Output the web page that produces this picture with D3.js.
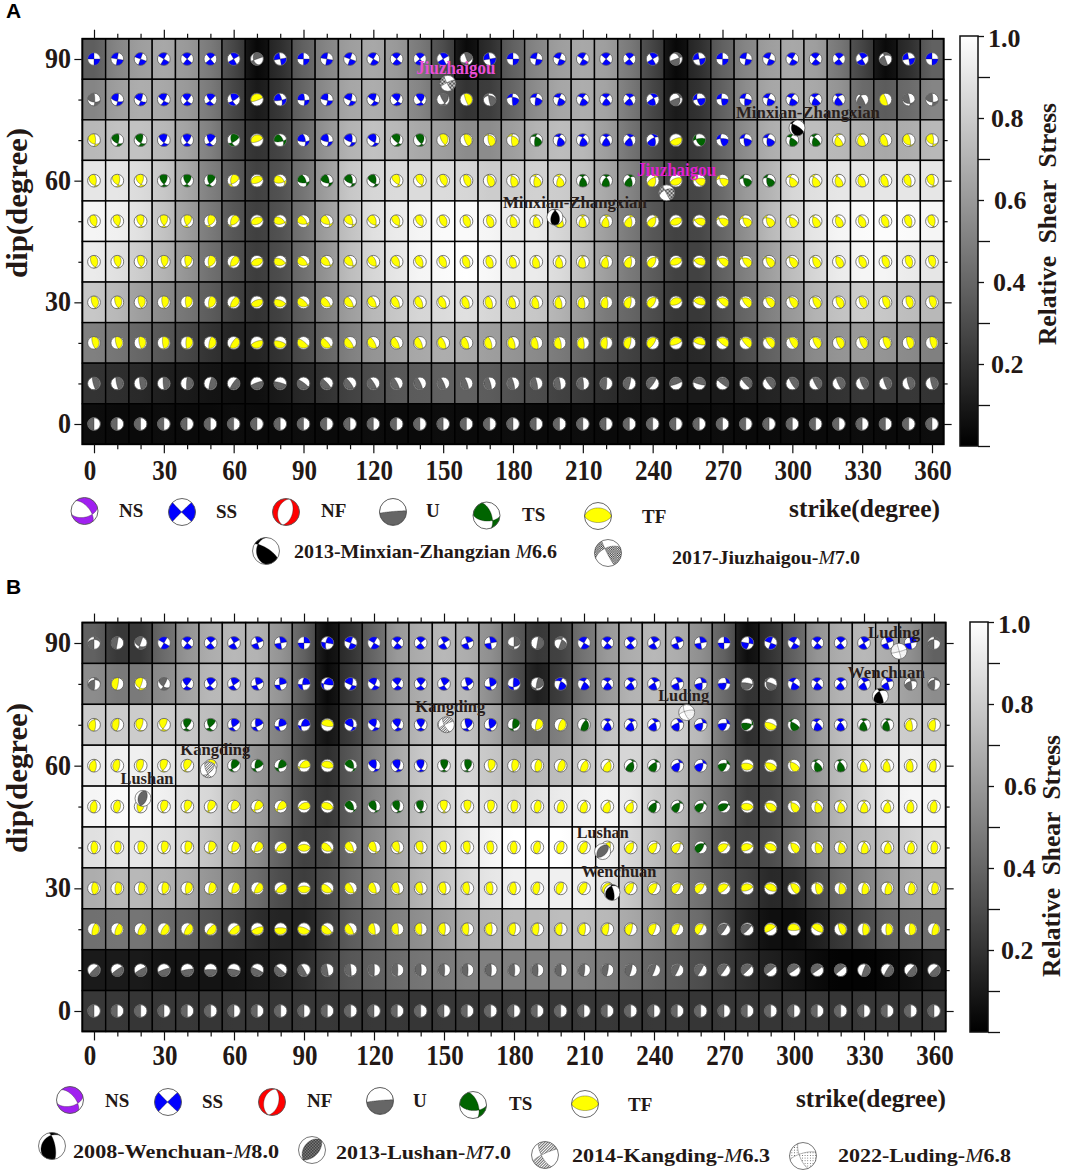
<!DOCTYPE html>
<html><head><meta charset="utf-8">
<style>html,body{margin:0;padding:0;background:#fff}svg{display:block}text{font-family:"Liberation Serif",serif;fill:#231815;font-weight:bold}</style>
<script src="https://cdn.jsdelivr.net/npm/d3@7"></script></head><body>
<script>
const strikes = d3.range(0,361,10);
const dips = [90,80,70,60,50,40,30,20,10,0];
const xTickLabels = [0,30,60,90,120,150,180,210,240,270,300,330,360];
const yTickLabels = [0,30,60,90];
const colorbarLabels = [0.2,0.4,0.6,0.8,1.0];
const mechanismNames = ["NS","SS","NF","U","TS","TF"];
const mechanismColours = {N:"#a020f0",S:"#0000ff",R:"#ff0000",U:"#666666",T:"#006400",F:"#ffff00"};

const shadeA = [
[37,52,62,66,60,48,28,3,18,38,52,62,66,60,48,30,4,18,38,52,62,66,62,48,27,3,18,38,52,62,66,62,47,27,4,18,38],
[52,62,68,66,60,48,28,10,22,40,55,65,68,62,52,36,20,24,40,55,65,68,64,48,28,10,20,38,55,65,68,66,58,42,36,42,52],
[72,76,76,72,64,50,30,20,27,42,58,70,76,72,66,62,55,55,62,70,74,72,62,46,30,18,24,40,55,68,74,74,72,68,66,68,72],
[90,90,86,78,66,50,36,26,32,46,62,78,84,86,86,86,84,80,80,82,80,76,66,52,36,26,28,42,60,70,84,88,90,90,90,90,90],
[96,94,88,76,62,48,34,25,32,46,62,76,88,92,96,98,98,96,92,92,84,74,62,48,34,26,28,40,56,72,84,90,96,98,99,98,96],
[92,88,80,70,58,44,32,24,30,44,58,74,84,90,96,98,100,97,92,92,86,74,62,48,36,26,26,38,50,62,74,84,92,96,96,92,90],
[78,72,62,54,46,36,26,20,26,38,50,62,72,78,84,86,88,84,80,78,70,60,48,40,30,22,22,30,40,50,60,70,76,80,78,74,72],
[50,46,40,34,28,20,14,14,20,30,40,50,58,62,66,68,66,62,58,54,48,40,32,26,20,14,16,22,30,38,46,54,58,60,58,54,50],
[20,18,16,12,10,8,6,6,10,16,20,26,30,34,36,38,38,36,32,30,26,22,18,14,12,10,10,10,12,14,16,18,20,22,22,22,20],
[5,4,4,5,4,4,5,4,4,5,4,4,5,4,4,5,4,4,5,4,4,5,4,4,5,4,4,5,4,4,5,4,4,5,4,4,5]];
const shadeB = [
[38,22,22,42,58,68,72,70,58,38,5,20,40,60,68,72,68,56,36,22,26,45,60,68,72,68,56,38,5,20,38,58,68,72,68,56,38],
[55,48,48,55,64,72,74,70,58,36,4,22,42,58,68,74,72,55,32,12,24,46,60,70,74,72,62,42,20,22,42,60,70,74,72,62,55],
[80,80,80,80,78,74,68,64,50,30,8,24,44,60,72,78,76,66,50,42,50,66,76,80,82,80,72,46,18,26,40,60,74,82,82,80,80],
[92,94,94,90,86,82,72,58,50,30,18,34,52,66,78,84,84,78,70,72,74,78,84,84,80,72,62,46,28,28,44,60,74,84,92,94,92],
[96,98,98,94,88,84,70,62,50,30,22,36,52,64,76,84,90,88,84,88,92,94,96,92,80,72,58,42,26,28,40,56,72,84,92,96,96],
[88,90,90,88,84,76,66,54,38,26,28,42,54,66,76,84,90,96,100,100,100,96,94,84,74,62,46,32,28,30,42,56,66,72,76,82,88],
[68,72,72,70,66,58,50,42,30,24,30,42,52,60,70,78,84,90,94,94,94,94,90,78,66,54,44,34,26,16,18,30,42,52,60,66,68],
[44,46,46,42,38,32,26,18,14,14,24,36,44,50,56,62,68,70,72,72,74,74,72,66,58,48,42,28,14,6,5,12,22,30,38,42,44],
[10,10,10,8,8,8,8,10,12,18,26,34,38,42,46,48,50,50,50,50,50,50,48,44,40,36,30,24,18,12,8,4,1,1,3,6,10],
[22,22,21,22,22,21,22,22,21,22,22,21,22,22,21,22,22,21,22,22,21,22,22,21,22,22,21,22,22,21,22,22,21,22,22,21,22]];

const typesA = [
"SSSSSSSUSSSSSSSSUSSSSSSSSUSSSSSSSSUSS",
"USSSSSSFSSSSSSSUFUSSSSSSSUSSSSSSSUFUU",
"FTTSSSTFTSSSSTTFFFFTSSSSSFTSSSTTFFFFF",
"FFFTTTFFFTTTTFFFFFFFFTTTFFFFTTFFFFFFF",
"FFFFFFFFFFFFFFFFFFFFFFFFFFFFFFFFFFFFF",
"FFFFFFFFFFFFFFFFFFFFFFFFFFFFFFFFFFFFF",
"FFFFFFFFFFFFFFFFFFFFFFFFFFFFFFFFFFFFF",
"FFFFFFFFFFFFFFFFFFFFFFFFFFFFFFFFFFFFF",
"UUUUUUUUUUUUUUUUUUUUUUUUUUUUUUUUUUUUU",
"UUUUUUUUUUUUUUUUUUUUUUUUUUUUUUUUUUUUU"];
const typesB = [
"UUUSSSSSSSSSSSSSSSUUUSSSSSSSSSSSSSSSU",
"UFFUSSSSSSSSSSSSSSSUSSSSSSSSUUSSSSSUU",
"FFFFTTSSSSFSSSSSSSTFFTSSSSSSTFTSSTTFF",
"FFFFFFTTTFFTSSSTTFFFFFFTTSSTFFFTTFFFF",
"FFFFFFFFFFFTTTTFFFFFFFFFTTTTFFFFFFFFF",
"FFFFFFFFFFFFFFFFFFFFFFFFFFTFFFFFFFFFF",
"FFFFFFFFFFFFFFFFFFFFFFFFFFFFFFFFFFFFF",
"FFFFFFFFFFFFFFFFFFFFFFFFFFFUUFFFFFFFF",
"UUUUUUUUUUUUUUUUUUUUUUUUUUUUUUUUUUUUU",
"UUUUUUUUUUUUUUUUUUUUUUUUUUUUUUUUUUUUU"];

const rakeDipZero = [-90,-80,-70,-60,-50,-40,-30,-20,-10,0,10,20,30,40,50,60,70,80,90,100,110,120,130,140,150,160,170,180,-170,-160,-150,-140,-130,-120,-110,-100,-90];
const rakeA = [
[180,180,180,180,180,180,180,135,0,0,0,0,0,0,0,0,45,180,180,180,180,180,180,180,180,135,0,0,0,0,0,0,0,0,45,180,180],
[147,156,162,165,167,166,160,90,20,14,13,15,18,24,33,53,90,127,150,156,162,165,167,166,160,125,25,14,13,15,18,24,33,53,90,127,147],
[128,139,147,152,155,154,144,90,36,25,25,28,33,40,52,69,90,111,128,139,147,152,155,154,144,90,36,25,25,28,33,40,52,69,90,111,128],
[118,129,137,143,146,145,133,90,47,35,34,37,43,51,62,75,90,105,118,129,137,143,146,145,133,90,47,35,34,37,43,51,62,75,90,105,118],
[112,122,130,136,139,138,126,90,54,42,41,44,50,58,68,79,90,101,112,122,130,136,139,138,126,90,54,42,41,44,50,58,68,79,90,101,112],
[109,118,125,131,134,133,121,90,59,47,46,49,55,62,71,81,90,99,109,118,125,131,134,133,121,90,59,47,46,49,55,62,71,81,90,99,109],
[107,115,122,127,131,130,118,90,62,50,49,53,58,65,73,83,90,97,107,115,122,127,131,130,118,90,62,50,49,53,58,65,73,83,90,97,107],
[106,113,120,125,128,127,116,90,64,53,52,55,60,67,74,84,90,96,106,113,120,125,128,127,116,90,64,53,52,55,60,67,74,84,90,96,106],
[105,112,118,124,127,126,115,90,65,54,53,56,62,68,75,84,90,96,105,112,118,124,127,126,115,90,65,54,53,56,62,68,75,84,90,96,105],
rakeDipZero];
const rakeB = [
[45,90,135,180,180,180,180,180,180,180,160,0,0,0,0,0,0,0,45,90,135,180,180,180,180,180,180,180,160,0,0,0,0,0,0,0,45],
[53,90,127,147,156,162,165,167,166,160,135,20,14,13,15,18,24,33,40,60,150,156,162,165,167,166,160,150,110,60,20,14,13,15,18,33,53],
[69,90,111,128,139,147,152,155,154,144,90,36,25,25,28,33,40,45,52,69,90,111,150,152,155,154,150,144,125,90,50,25,25,40,50,69,69],
[75,90,105,118,120,125,137,143,146,125,90,47,35,34,37,43,51,62,75,90,90,105,118,129,137,143,146,145,100,80,60,45,45,55,62,75,75],
[79,90,101,112,122,125,130,136,135,110,80,50,42,41,44,50,58,68,79,90,101,112,122,130,136,139,138,126,100,75,54,42,41,44,50,68,79],
[90,99,109,118,125,131,134,133,121,90,59,47,46,49,55,62,71,81,90,90,90,99,109,118,125,131,134,133,121,90,59,47,46,49,55,65,85],
[90,97,107,115,122,127,131,130,118,90,62,50,49,53,58,65,73,83,90,90,90,97,107,115,122,127,131,130,118,90,62,50,49,53,58,70,85],
[75,80,85,90,100,100,100,90,80,70,60,50,40,45,52,60,70,80,85,95,105,115,120,125,130,135,140,145,145,140,120,100,70,60,70,80,75],
[45,45,50,50,50,50,50,45,40,30,20,25,30,40,50,60,70,80,90,100,110,115,120,125,130,135,140,145,145,150,155,165,180,40,40,40,45],
rakeDipZero];

const legendMechanisms = [[320,60,-45],[135,88,178],[15,50,-90],[85,3,90],[340,60,140],[90,50,90]];

const eventsA = [["Jiuzhaigou",152,84,170],["Jiuzhaigou",246,57,6],["Minxian-Zhangxian",198,51,115],["Minxian-Zhangxian",302,73,65]];
const eventsAStyle = ["check","check","black","black"];
const eventsB = [["Lushan",21,52,95],["Lushan",218,39,85],["Kangding",49,59,150],["Kangding",151,70,-10],["Wenchuan",222,29,140],["Wenchuan",337,77,50],["Luding",254,73,20],["Luding",345,88,175]];
const eventsBStyle = ["dense","dense","hatch","hatch","black","black","dots","dots"];
const eventKeyA = [["2013-Minxian-Zhangzian ","M","6.6"],["2017-Jiuzhaigou-","M","7.0"]];
const eventKeyB = [["2008-Wenchuan-","M","8.0"],["2013-Lushan-","M","7.0"],["2014-Kangding-","M","6.3"],["2022-Luding-","M","6.8"]];

const W=1065,H=1171;
const svg=d3.select("body").append("svg").attr("width",W).attr("height",H).attr("viewBox",`0 0 ${W} ${H}`);
const defs=svg.append("defs");
let gid=0;

const pCheck=defs.append("pattern").attr("id","p-check").attr("width",3).attr("height",3).attr("patternUnits","userSpaceOnUse");
pCheck.append("rect").attr("width",3).attr("height",3).attr("fill","#fff");
pCheck.append("rect").attr("width",1.5).attr("height",1.5).attr("fill","#222");
pCheck.append("rect").attr("x",1.5).attr("y",1.5).attr("width",1.5).attr("height",1.5).attr("fill","#222");
const pDense=defs.append("pattern").attr("id","p-dense").attr("width",2).attr("height",2).attr("patternUnits","userSpaceOnUse");
pDense.append("rect").attr("width",2).attr("height",2).attr("fill","#999");
pDense.append("rect").attr("width",1).attr("height",1).attr("fill","#222");
pDense.append("rect").attr("x",1).attr("y",1).attr("width",1).attr("height",1).attr("fill","#222");
const pHatch=defs.append("pattern").attr("id","p-hatch").attr("width",2.6).attr("height",2.6).attr("patternUnits","userSpaceOnUse").attr("patternTransform","rotate(-45)");
pHatch.append("rect").attr("width",2.6).attr("height",2.6).attr("fill","#fff");
pHatch.append("rect").attr("width",2.6).attr("height",1).attr("fill","#444");
const pDots=defs.append("pattern").attr("id","p-dots").attr("width",3.5).attr("height",3.5).attr("patternUnits","userSpaceOnUse");
pDots.append("rect").attr("width",3.5).attr("height",3.5).attr("fill","#fff");
pDots.append("circle").attr("cx",1.7).attr("cy",1.7).attr("r",.6).attr("fill","#333");
const styleFill={black:"#000",check:"url(#p-check)",dense:"url(#p-dense)",hatch:"url(#p-hatch)",dots:"url(#p-dots)"};

const rad=Math.PI/180, M=40, EXT=1.12;
const contourGen=d3.contours().size([M,M]).thresholds([0]);
const geo=d3.geoPath();
const memo=new Map();
function ballPath(strike,dip,rake){
  const key=strike+"_"+dip+"_"+rake;
  if(memo.has(key))return memo.get(key);
  const s=strike*rad,dd=dip*rad,r=rake*rad;
  const n=[-Math.sin(dd)*Math.sin(s),Math.sin(dd)*Math.cos(s),-Math.cos(dd)];
  const d=[Math.cos(r)*Math.cos(s)+Math.cos(dd)*Math.sin(r)*Math.sin(s),Math.cos(r)*Math.sin(s)-Math.cos(dd)*Math.sin(r)*Math.cos(s),-Math.sin(dd)*Math.sin(r)];
  const vals=new Float64Array(M*M);
  for(let j=0;j<M;j++)for(let i=0;i<M;i++){
    const E=((i+.5)/M*2-1)*EXT,N=-((j+.5)/M*2-1)*EXT,rho=Math.hypot(E,N)||1e-6;
    const th=2*Math.asin(Math.min(1,rho/Math.SQRT2)),st=Math.sin(th),ct=Math.cos(th);
    const v=[N/rho*st,E/rho*st,ct];
    vals[j*M+i]=(v[0]*n[0]+v[1]*n[1]+v[2]*n[2])*(v[0]*d[0]+v[1]*d[1]+v[2]*d[2]);
  }
  const out=geo(contourGen(vals)[0])||"";
  memo.set(key,out);return out;
}
const clipIds={};
function clipFor(R){
  if(!clipIds[R]){clipIds[R]="clip"+(gid++);defs.append("clipPath").attr("id",clipIds[R]).append("circle").attr("r",R);}
  return clipIds[R];
}
function drawBall(parent,cx,cy,R,mech,fill,sw,edge){
  const g=parent.append("g").attr("transform",`translate(${cx},${cy})`);
  g.append("circle").attr("r",R).attr("fill","#fff");
  g.append("g").attr("clip-path",`url(#${clipFor(R)})`).append("path")
    .attr("d",ballPath(mech[0],mech[1],mech[2]))
    .attr("transform",`translate(${-R*EXT},${-R*EXT}) scale(${2*R*EXT/M})`)
    .attr("fill",fill).attr("fill-rule","evenodd").attr("stroke","#222").attr("stroke-width",.35).attr("vector-effect","non-scaling-stroke");
  g.append("circle").attr("r",R).attr("fill","none").attr("stroke",edge||"#666").attr("stroke-width",sw||.8);
}

function label(g,txt,x,y,size,opt={}){
  const t=g.append("text").attr("font-size",size).text(txt);
  if(opt.sy)t.attr("transform",`translate(${x},${y}) scale(1,${opt.sy})`);
  else t.attr("x",x).attr("y",y);
  if(opt.anchor)t.attr("text-anchor",opt.anchor);
  if(opt.fill)t.style("fill",opt.fill);
  if(opt.len)t.attr("textLength",opt.len).attr("lengthAdjust","spacingAndGlyphs");
  if(opt.rot!==undefined)t.attr("transform",`rotate(${opt.rot} ${x} ${y})`);
  return t;
}
function keyLabel(g,parts,x,y,size,len){
  const t=g.append("text").attr("x",x).attr("y",y).attr("font-size",size);
  t.append("tspan").text(parts[0]);
  t.append("tspan").text(parts[1]).style("font-style","italic").style("font-weight","normal");
  t.append("tspan").text(parts[2]);
  if(len)t.attr("textLength",len).attr("lengthAdjust","spacingAndGlyphs");
}

function panel(cfg){
  const g=svg.append("g");
  const x=d3.scaleLinear().domain([0,360]).range(cfg.xr);
  const y=d3.scaleLinear().domain([0,90]).range(cfg.yr);
  const grey=d3.scaleLinear().domain([0,100]).range(["#000","#fff"]);
  const dx=(x(10)-x(0))/2, dy=(y(0)-y(10))/2;
  const frame=[x(-5),y(95),x(365),y(-5)];
  dips.forEach((dip,ri)=>{
    strikes.forEach((st,ci)=>{
      const v=cfg.shade[ri][ci];
      const l=ci>0?cfg.shade[ri][ci-1]:v, r=ci<36?cfg.shade[ri][ci+1]:v;
      const id="c"+(gid++);
      const lg=defs.append("linearGradient").attr("id",id);
      lg.append("stop").attr("offset","0").attr("stop-color",grey(v+(l-v)*.25));
      lg.append("stop").attr("offset",".5").attr("stop-color",grey(v));
      lg.append("stop").attr("offset","1").attr("stop-color",grey(v+(r-v)*.25));
      g.append("rect").attr("x",x(st)-dx).attr("y",y(dip)-dy).attr("width",2*dx).attr("height",2*dy)
        .attr("fill",`url(#${id})`).attr("stroke","#000").attr("stroke-width",1.4);
    });
  });
  dips.forEach((dip,ri)=>strikes.forEach((st,ci)=>{
    drawBall(g,x(st),y(dip),6.4,[st,dip,cfg.rake[ri][ci]],mechanismColours[cfg.types[ri][ci]],.8,"#5a5a5a");
  }));
  g.append("rect").attr("x",frame[0]).attr("y",frame[1]).attr("width",frame[2]-frame[0]).attr("height",frame[3]-frame[1]).attr("fill","none").attr("stroke","#000").attr("stroke-width",1.8);

  const styleAxis=(a,isMajor,big,small,dir)=>{
    a.select(".domain").remove();
    a.selectAll(".tick line").attr(dir,d=>isMajor(d)?big:small).attr("stroke","#111").attr("stroke-width",1.2);
    a.selectAll(".tick text").remove();
  };
  const maj=d=>d%30===0;
  const xb=g.append("g").attr("transform",`translate(0,${frame[3]})`).call(d3.axisBottom(x).tickValues(strikes)); styleAxis(xb,maj,9,5,"y2");
  const xt=g.append("g").attr("transform",`translate(0,${frame[1]})`).call(d3.axisTop(x).tickValues(strikes)); styleAxis(xt,maj,-9,-5,"y2");
  const yl=g.append("g").attr("transform",`translate(${frame[0]},0)`).call(d3.axisLeft(y).tickValues(dips)); styleAxis(yl,maj,-8,-4,"x2");
  const yr=g.append("g").attr("transform",`translate(${frame[2]},0)`).call(d3.axisRight(y).tickValues(dips)); styleAxis(yr,maj,8,4,"x2");
  xTickLabels.forEach(v=>label(g,v,x(v)+(v===0?-4:1),cfg.xLabelY,25,{anchor:"middle",sy:1.14}));
  yTickLabels.forEach(v=>label(g,v,71,y(v)+9,26,{anchor:"end",sy:1.12}));
  label(g,"dip(degree)",cfg.yTitle[0],cfg.yTitle[1],30,{rot:-90,anchor:"middle",len:cfg.yTitle[2]});
  label(g,"strike(degree)",cfg.xTitle[0],cfg.xTitle[1],25.4,{len:cfg.xTitle[2]});

  const cb=cfg.cb;
  const cs=d3.scaleLinear().domain([0,1]).range([cb.y1,cb.y0]);
  const cid="cbar"+(gid++);
  const lg=defs.append("linearGradient").attr("id",cid).attr("x1",0).attr("x2",0).attr("y1",1).attr("y2",0);
  lg.append("stop").attr("offset",0).attr("stop-color","#000");
  lg.append("stop").attr("offset",1).attr("stop-color","#fff");
  g.append("rect").attr("x",cb.x).attr("y",cb.y0).attr("width",cb.w).attr("height",cb.y1-cb.y0).attr("fill",`url(#${cid})`).attr("stroke","#111").attr("stroke-width",1.5);
  const ca=g.append("g").attr("transform",`translate(${cb.x+cb.w},0)`).call(d3.axisRight(cs).tickValues(d3.range(0,11).map(d=>d/10)));
  ca.select(".domain").remove();
  ca.selectAll(".tick text").remove();
  ca.selectAll(".tick line").attr("x2",d=>{const k=Math.round(d*10);return (k%2===1||k===0)?12:6;}).attr("stroke","#111").attr("stroke-width",1.3);
  const cbPad={"0.2":13,"0.4":15,"0.6":16,"0.8":13,"1.0":10};
  colorbarLabels.forEach(v=>label(g,v.toFixed(1),cb.x+cb.w+cbPad[v.toFixed(1)],cs(v)+(v===1?11:9),cb.fs,{}));
  label(g,"Relative  Shear  Stress",cb.tx,cb.ty,cb.tfs,{rot:-90,anchor:"middle",len:cb.tlen}).style("white-space","pre");

  mechanismNames.forEach((nm,i)=>{
    const p=cfg.legBalls[i];
    drawBall(g,p[0],p[1],13.5,legendMechanisms[i],mechanismColours[["N","S","R","U","T","F"][i]],.9,"#555");
    label(g,nm,cfg.legText[i][0],cfg.legText[i][1],19);
  });

  cfg.events.forEach((e,i)=>{
    drawBall(g,x(e[1]),y(e[2]),8,[e[1],e[2],e[3]],styleFill[cfg.eventStyle[i]],.7,"#555");
  });
  cfg.events.forEach((e,i)=>{
    const o=cfg.eventLab[i];
    label(g,e[0],x(e[1])+o[0],y(e[2])+o[1],o[3]||17,{anchor:"middle",len:o[2],fill:cfg.eventFill?cfg.eventFill[i]:"#2a1f1c"});
  });
  cfg.keyBalls.forEach((k,i)=>{
    drawBall(g,k[0],k[1],k[2],k.slice(3,6),styleFill[k[6]],.8,"#555");
    const t=cfg.keyText[i];
    keyLabel(g,cfg.key[i],t[0],t[1],t[3],t[2]);
  });
  label(g,cfg.tag,cfg.tagPos[0],cfg.tagPos[1],21).style("font-family","'Liberation Sans',sans-serif").style("fill","#000");
}

panel({tag:"A",tagPos:[6,18],xr:[94,932],yr:[424,59],shade:shadeA,types:typesA,rake:rakeA,xLabelY:480,
  yTitle:[27,203,150],xTitle:[789,517,151],
  cb:{x:960,w:18,y0:36,y1:446,fs:26,tx:1056,ty:224,tfs:25,tlen:242},
  legBalls:[[84.5,511],[182,512],[286,512],[393,512],[486.5,515.5],[598,516]],
  legText:[[119,517],[216,518],[321,517],[426,517],[522,521],[642,523]],
  events:eventsA,eventStyle:eventsAStyle,
  eventLab:[[8,-9,79,18],[10,-17,79,18],[20,-9,144],[11,-10,144]],
  eventFill:["#e94fd6","#e020d0","#2a1f1c","#2a1f1c"],
  key:eventKeyA,
  keyBalls:[[266,551,13.5,302,73,65,"black"],[608,553,13.5,246,57,6,"check"]],
  keyText:[[294,558,263,19],[672,564,188,18]]});

panel({tag:"B",tagPos:[6,594],xr:[94,934],yr:[1011,643],shade:shadeB,types:typesB,rake:rakeB,xLabelY:1065,
  yTitle:[27,778,150],xTitle:[796,1107,150],
  cb:{x:970,w:18,y0:622,y1:1032,fs:26,tx:1060,ty:856,tfs:25,tlen:242},
  legBalls:[[70,1100],[168,1102],[272,1102],[380,1101],[473,1105],[585,1104]],
  legText:[[105,1107],[202,1108],[307,1107],[413,1107],[509,1110],[628,1111]],
  events:eventsB,eventStyle:eventsBStyle,
  eventLab:[[4,-14,53],[0,-14,52],[7,-15,70],[4,-13,70],[7,-15,75],[6,-18,77],[-3,-12,51],[-5,-13,52]],
  key:eventKeyB,
  keyBalls:[[52,1146,13.5,222,29,140,"black"],[312,1150,13.5,218,39,85,"dense"],[545,1155,13.5,151,70,-10,"hatch"],[803,1156,13.5,254,73,20,"dots"]],
  keyText:[[73,1158,206,19],[336,1159,175,19],[572,1162,198,19],[838,1162,173,19]]});
</script></body></html>
